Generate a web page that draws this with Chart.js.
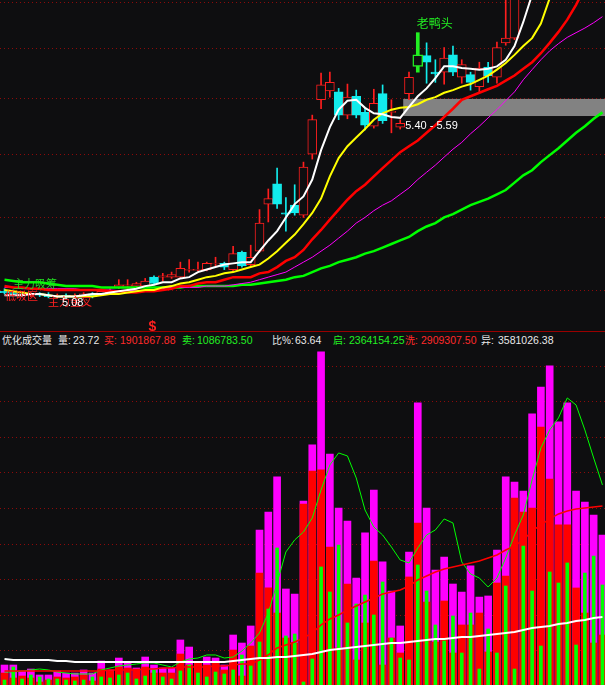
<!DOCTYPE html>
<html>
<head>
<meta charset="utf-8">
<script src="https://cdn.jsdelivr.net/npm/chart.js@4.4.1/dist/chart.umd.min.js"></script>
<style>
  html, body { margin: 0; padding: 0; background: #0e0e10; width: 605px; height: 685px; overflow: hidden; }
  #wrap { position: relative; width: 605px; height: 685px; }
  #price { position: absolute; left: 0; top: 0; }
  #vol { position: absolute; left: 0; top: 349px; }
  #sep { position: absolute; left: 0; top: 331px; width: 605px; height: 1px; background: #9a0000; }
  #hdr { position: absolute; left: 0; top: 333px; width: 605px; height: 15px; overflow: hidden; white-space: nowrap;
         font: 10.5px "Liberation Sans", "Noto Sans CJK SC", sans-serif; }
  #hdr span { position: absolute; top: 0; line-height: 15px; }
  #hdr span.c { font-size: 10px; }
  .w { color: #e8e8e8; } .r { color: #ff2a2a; } .g { color: #22ee22; }
</style>
</head>
<body>
<div id="wrap">
  <canvas id="price" width="605" height="331"></canvas>
  <div id="sep"></div>
  <div id="hdr">
    <span class="w c" style="left:2px">优化成交量</span>
    <span class="w c" style="left:58px">量:</span>
    <span class="w" id="volNow" style="left:73px"></span>
    <span class="r c" style="left:104px">买:</span>
    <span class="r" style="left:120px">1901867.88</span>
    <span class="g c" style="left:182px">卖:</span>
    <span class="g" style="left:197px">1086783.50</span>
    <span class="w c" style="left:272px">比%:</span>
    <span class="w" style="left:295px">63.64</span>
    <span class="g c" style="left:333px">启:</span>
    <span class="g" style="left:349px">2364154.25</span>
    <span class="r c" style="left:405px">洗:</span>
    <span class="r" style="left:421px">2909307.50</span>
    <span class="w c" style="left:481px">异:</span>
    <span class="w" style="left:498px">3581026.38</span>
  </div>
  <canvas id="vol" width="605" height="337"></canvas>
</div>
<script>
// ---- daily candles ----
const candleOpen = [3.79,3.78,3.77,3.76,3.77,3.76,3.75,3.76,3.75,3.76,
  3.77,3.77,3.78,3.82,3.83,3.83,3.83,3.90,3.90,3.90,
  3.90,3.955,3.955,3.96,4.005,4.01,3.96,4.10,4.00,4.11,
  4.52,4.71,4.44,4.51,4.42,5.00,5.58,5.68,5.67,5.41,
  5.62,5.44,5.29,5.65,5.44,5.28,5.65,5.97,6.10,5.90,
  5.90,6.11,5.84,5.87,5.73,5.96,5.84,6.26,6.32,7.15,
  7.70,8.30,8.05,8.60,8.45,8.95,9.30,9.10,9.60];
const candleHigh = [3.81,3.80,3.79,3.78,3.78,3.78,3.77,3.77,3.77,3.78,
  3.78,3.80,3.81,3.88,3.88,3.86,3.89,3.91,3.93,3.94,
  4.02,4.04,4.02,4.02,4.06,4.02,4.15,4.11,4.16,4.47,
  4.66,4.86,4.58,4.70,4.92,5.41,5.89,5.90,5.71,5.76,
  5.69,5.49,5.70,5.75,5.58,5.36,5.90,6.39,6.26,6.05,
  6.20,6.22,6.05,5.90,6.02,6.02,6.27,6.90,7.25,7.75,
  8.35,8.60,8.80,8.90,9.10,9.50,9.60,9.80,9.95];
const candleLow = [3.77,3.76,3.75,3.75,3.75,3.74,3.74,3.74,3.74,3.75,
  3.74,3.76,3.77,3.81,3.80,3.81,3.82,3.84,3.87,3.89,
  3.89,3.94,3.95,3.95,3.99,3.96,3.95,3.98,3.98,4.10,
  4.36,4.48,4.28,4.42,4.40,4.95,5.48,5.61,5.36,5.37,
  5.38,5.25,5.27,5.32,5.22,5.26,5.58,5.90,5.77,5.78,
  5.76,5.86,5.77,5.69,5.66,5.78,5.77,6.23,6.30,7.05,
  7.60,7.95,7.95,8.30,8.40,8.85,9.00,9.05,9.45];
const candleClose = [3.78,3.77,3.76,3.77,3.76,3.75,3.76,3.75,3.76,3.77,
  3.75,3.79,3.80,3.84,3.84,3.85,3.87,3.85,3.91,3.92,
  3.97,3.96,3.96,4.01,4.01,3.98,4.09,3.99,4.06,4.35,
  4.57,4.52,4.43,4.44,4.87,5.36,5.75,5.78,5.41,5.61,
  5.41,5.30,5.54,5.35,5.45,5.32,5.84,6.11,6.02,5.88,
  6.07,5.90,5.99,5.78,5.95,5.86,6.20,6.32,7.10,7.60,
  8.20,8.10,8.60,8.45,8.90,9.30,9.10,9.60,9.75];

// ---- price moving averages ----
const maWhite = [3.76,3.76,3.76,3.77,3.77,3.76,3.75,3.75,3.75,3.76,
  3.77,3.77,3.78,3.79,3.80,3.81,3.83,3.84,3.86,3.86,
  3.89,3.90,3.94,3.96,3.98,4.00,4.01,4.02,4.02,4.11,
  4.20,4.28,4.40,4.52,4.59,4.75,5.04,5.28,5.47,5.57,
  5.58,5.49,5.43,5.42,5.39,5.38,5.50,5.62,5.71,5.83,
  5.97,5.97,5.95,5.94,5.93,5.94,5.97,6.05,6.22,6.53,
  6.90,7.25,7.62,7.95,8.25,8.55,8.80,9.05,9.30];
const maYellow = [3.80,3.79,3.78,3.77,3.77,3.76,3.75,3.75,3.75,3.75,
  3.75,3.76,3.77,3.77,3.78,3.79,3.80,3.80,3.82,3.83,
  3.85,3.86,3.88,3.90,3.91,3.93,3.94,3.96,3.98,4.00,
  4.05,4.11,4.18,4.25,4.34,4.44,4.57,4.78,4.96,5.08,
  5.17,5.26,5.36,5.43,5.47,5.49,5.50,5.53,5.58,5.61,
  5.66,5.69,5.73,5.76,5.81,5.86,5.93,6.01,6.11,6.22,
  6.32,6.51,6.85,7.10,7.35,7.60,7.85,8.10,8.35];
const maRed = [3.83,3.82,3.82,3.81,3.81,3.80,3.80,3.80,3.80,3.80,
  3.80,3.80,3.79,3.79,3.78,3.78,3.79,3.79,3.80,3.81,
  3.83,3.83,3.85,3.86,3.86,3.88,3.90,3.90,3.90,3.93,
  3.94,3.98,4.03,4.06,4.12,4.21,4.29,4.38,4.47,4.56,
  4.64,4.70,4.78,4.86,4.94,5.02,5.08,5.14,5.22,5.30,
  5.39,5.48,5.58,5.62,5.66,5.70,5.74,5.80,5.86,5.94,
  6.02,6.13,6.26,6.40,6.56,6.76,7.00,7.20,7.40];
const maMagenta = [3.82,3.82,3.81,3.81,3.81,3.81,3.81,3.81,3.81,3.80,
  3.80,3.80,3.80,3.795,3.795,3.795,3.795,3.80,3.81,3.82,
  3.82,3.82,3.82,3.83,3.83,3.83,3.84,3.85,3.86,3.88,
  3.90,3.92,3.94,3.98,4.02,4.06,4.11,4.16,4.22,4.28,
  4.35,4.40,4.46,4.51,4.55,4.61,4.67,4.75,4.82,4.89,
  4.97,5.05,5.12,5.21,5.29,5.38,5.47,5.57,5.67,5.81,
  5.93,6.05,6.16,6.25,6.33,6.39,6.45,6.52,6.60];
const maGreen = [3.88,3.87,3.86,3.86,3.86,3.85,3.84,3.83,3.83,3.83,
  3.83,3.82,3.82,3.82,3.82,3.82,3.82,3.82,3.82,3.82,
  3.82,3.83,3.83,3.83,3.83,3.83,3.83,3.84,3.84,3.85,
  3.86,3.87,3.88,3.90,3.91,3.94,3.97,3.99,4.02,4.04,
  4.06,4.09,4.11,4.14,4.17,4.20,4.23,4.28,4.32,4.35,
  4.40,4.43,4.47,4.51,4.54,4.57,4.61,4.65,4.72,4.79,
  4.84,4.92,4.99,5.06,5.14,5.22,5.29,5.37,5.44];

// ---- optimised volume ----
const volTotal = [3.30,3.30,2.36,2.67,1.73,1.73,2.36,2.04,2.04,2.52,
  2.04,3.93,2.52,4.40,3.78,2.83,4.56,3.30,2.83,2.83,
  7.24,6.13,3.78,4.56,4.40,3.30,8.02,6.76,9.44,24.54,
  27.37,32.88,15.26,14.47,29.10,37.91,52.54,36.49,28.00,25.95,
  16.99,24.07,30.83,19.51,14.94,9.44,21.08,44.52,28.00,18.25,
  20.29,16.04,14.79,18.88,14.00,14.16,21.39,32.88,32.09,30.67,
  42.79,47.03,50.34,41.53,44.52,30.67,28.94,26.90,23.72];
const volBuy = [2.04,1.26,1.57,1.26,0.63,0.94,1.42,1.26,1.42,1.73,
  0.79,2.67,2.36,2.99,2.83,2.67,2.99,2.04,2.04,2.04,
  5.03,3.30,3.62,3.30,3.62,2.52,5.66,1.57,6.29,17.77,
  15.42,11.48,7.55,6.76,28.63,33.82,33.98,21.86,5.98,16.04,
  4.09,9.91,19.66,3.30,7.55,5.19,17.15,25.64,13.21,6.92,
  13.37,5.19,9.60,9.60,11.48,5.35,16.20,17.30,29.57,27.37,
  28.00,40.74,32.56,25.33,25.33,15.42,11.48,6.76,8.02];
const volSell = [0.94,2.99,1.10,1.73,1.42,1.10,1.10,0.94,0.79,0.94,
  1.42,1.42,1.26,1.73,2.04,1.10,1.57,2.52,1.42,1.10,
  2.36,3.30,2.04,1.42,2.20,1.89,2.52,4.88,3.15,6.92,
  12.11,21.71,7.87,8.18,0.63,4.25,18.72,14.79,22.18,9.91,
  12.90,14.31,11.17,16.36,7.55,4.40,4.09,19.03,14.94,9.60,
  7.08,11.01,5.19,11.48,2.67,8.97,5.19,15.73,2.67,22.02,
  14.94,6.29,17.93,16.20,19.35,6.45,17.77,20.45,15.89];
const volMaWhite = [4.25,4.09,4.09,4.09,4.09,4.09,3.93,3.93,3.78,3.78,
  3.78,3.78,3.78,3.78,3.78,3.78,3.78,3.78,3.78,3.78,
  3.78,3.78,3.78,3.78,3.78,3.78,3.93,4.09,4.25,4.40,
  4.40,4.56,4.56,4.72,4.88,5.03,5.35,5.66,5.82,5.98,
  6.13,6.29,6.45,6.61,6.76,6.76,6.92,7.08,7.24,7.39,
  7.39,7.55,7.71,7.71,7.87,8.02,8.18,8.34,8.49,8.81,
  9.12,9.28,9.44,9.75,9.91,10.22,10.38,10.70,10.85];
const volMaRed = [2.36,2.36,2.36,2.36,2.36,2.36,2.36,2.36,2.36,2.36,
  2.36,2.36,2.52,2.52,2.52,2.52,2.67,2.67,2.83,2.83,
  2.99,2.99,2.99,2.99,3.15,3.15,3.30,3.46,3.46,4.09,
  4.88,5.98,6.45,6.92,7.55,8.34,9.60,10.54,11.17,11.95,
  12.58,13.21,13.84,14.47,14.79,15.10,15.73,16.67,17.30,17.93,
  18.40,18.72,19.03,19.35,19.66,20.13,20.61,21.39,22.02,22.97,
  24.38,25.33,26.27,27.06,27.53,27.84,28.00,28.16,28.31];
const volMaGreen = [2.20,2.20,2.36,2.52,2.67,2.52,2.20,2.04,1.89,1.89,
  1.89,2.52,2.83,3.15,3.30,3.46,3.62,3.62,3.30,2.99,
  3.78,4.25,4.40,4.88,4.88,4.40,4.56,5.51,6.76,8.34,
  11.48,16.20,21.08,22.97,24.22,26.43,30.83,34.76,36.65,36.18,
  32.72,27.68,25.01,23.75,21.86,19.82,19.35,21.71,23.75,24.54,
  26.27,25.64,19.51,17.62,16.99,15.57,16.99,20.13,23.75,26.90,
  32.40,37.44,40.27,42.16,45.30,44.20,40.27,35.86,31.62];

// ---- axis levels and marked items ----
const priceGrid = [3.8, 4.4, 5.0, 5.6, 6.2, 6.8];
const volGrid = [5.6, 11.2, 16.8, 22.4, 28.0, 33.6, 39.2, 44.8, 50.4];
const zoneLow = 5.40, zoneHigh = 5.59, zoneFrom = 45;   // support band after bar 45
const duckIdx = 47;                                      // 老鸭头 signal bar
const signalIdx = 17;                                    // $ marker bar

// ---- view window ----
const N = candleOpen.length;
const X_MIN = -0.512, X_MAX = 68.29;
const PRICE_MIN = 3.498, PRICE_MAX = 6.826;
const VOL_MAX = 53.0;
const BG = '#0e0e10', UP = '#ff1e1e', DOWN = '#12ecec', DUCK = '#22ee22', GRID = '#8c0a0a';

document.getElementById('volNow').textContent = volTotal[N - 1].toFixed(2);

const idx = [...Array(N).keys()];
const pts = arr => arr.map((v, i) => ({ x: i, y: v }));
const isUp = i => candleClose[i] >= candleOpen[i];

// dotted horizontal grid drawn at the value levels of the y scale
function dottedGrid(levels) {
  return {
    id: 'dottedGrid',
    beforeDatasetsDraw(chart) {
      const { ctx, chartArea, scales: { y } } = chart;
      ctx.save();
      ctx.fillStyle = GRID;
      levels.forEach(v => {
        const py = Math.round(y.getPixelForValue(v));
        for (let px = chartArea.left; px < chartArea.right; px += 4) ctx.fillRect(px, py, 1, 1);
      });
      ctx.restore();
    }
  };
}

const zonePlugin = {
  id: 'zone',
  beforeDatasetsDraw(chart) {
    const { ctx, chartArea, scales: { x, y } } = chart;
    const x0 = x.getPixelForValue(zoneFrom) + 3;
    const yTop = y.getPixelForValue(zoneHigh), yBot = y.getPixelForValue(zoneLow);
    ctx.save();
    ctx.fillStyle = '#828282';
    ctx.fillRect(x0, yTop, chartArea.right - x0, yBot - yTop);
    ctx.restore();
  },
  afterDatasetsDraw(chart) {
    const { ctx, scales: { x, y } } = chart;
    ctx.save();
    // band caption
    const x0 = x.getPixelForValue(zoneFrom) + 3;
    ctx.font = '11px "Liberation Sans"';
    ctx.fillStyle = '#ffffff';
    ctx.textBaseline = 'alphabetic';
    ctx.fillText(zoneLow.toFixed(2) + ' - ' + zoneHigh.toFixed(2), x0 + 2, y.getPixelForValue(zoneLow) + 13);
    // pattern name over the signal candle
    ctx.font = '12px "Noto Sans CJK SC"';
    ctx.fillStyle = DUCK;
    ctx.textBaseline = 'top';
    ctx.fillText('老鸭头', x.getPixelForValue(duckIdx) - 1, y.getPixelForValue(candleHigh[duckIdx]) - 15);
    // $ marker under the early bar
    ctx.font = 'bold 14px "Liberation Sans"';
    ctx.fillStyle = '#ff2020';
    ctx.textAlign = 'center';
    ctx.textBaseline = 'alphabetic';
    ctx.fillText('$', x.getPixelForValue(signalIdx) - 1.5, 331);
    // overlapping indicator captions at the left end
    ctx.textAlign = 'left';
    ctx.textBaseline = 'top';
    ctx.font = '11px "Noto Sans CJK SC"';
    ctx.fillStyle = '#22dd22';
    ctx.fillText('主力吸筹', 13, 278);
    ctx.fillStyle = '#ff2020';
    ctx.fillText('低吸区', 5, 290);
    ctx.fillText('主力金叉', 48, 296);
    ctx.font = '11px "Liberation Sans"';
    ctx.fillStyle = '#ffffff';
    ctx.fillText('5.08', 62, 297);
    ctx.restore();
  }
};

const baseOpts = (yScale) => ({
  responsive: false,
  animation: false,
  devicePixelRatio: 1,
  events: [],
  layout: { padding: 0 },
  plugins: { legend: { display: false }, tooltip: { enabled: false } },
  scales: {
    x: { type: 'linear', min: X_MIN, max: X_MAX, offset: false, bounds: 'ticks', display: false },
    y: yScale
  }
});

const lineDs = (data, color, width, order) => ({
  type: 'line', data: pts(data), borderColor: color, borderWidth: width,
  pointRadius: 0, tension: 0, fill: false, order
});

// ---- price panel ----
const normal = idx.filter(i => i !== duckIdx);
new Chart(document.getElementById('price'), {
  type: 'bar',
  data: {
    datasets: [
      lineDs(maWhite, '#ffffff', 2, 1),
      lineDs(maYellow, '#ffff00', 2, 2),
      lineDs(maRed, '#ff0000', 2.5, 3),
      lineDs(maMagenta, '#ff00ff', 1, 4),
      lineDs(maGreen, '#00ff00', 2.5, 5),
      { // signal candle body
        data: [{ x: duckIdx, y: [candleOpen[duckIdx], candleClose[duckIdx]] }],
        backgroundColor: BG, borderColor: DUCK, borderWidth: 1.5, borderSkipped: false,
        barThickness: 10, grouped: false, minBarLength: 1, order: 10
      },
      { // signal candle wick
        data: [{ x: duckIdx, y: [candleLow[duckIdx], candleHigh[duckIdx]] }],
        backgroundColor: DUCK, borderWidth: 0, barThickness: 3, grouped: false, order: 11
      },
      { // bodies
        data: normal.map(i => ({ x: i, y: [candleOpen[i], candleClose[i]] })),
        backgroundColor: c => isUp(c.raw.x) ? BG : DOWN,
        borderColor: c => isUp(c.raw.x) ? UP : DOWN,
        borderWidth: 1, borderSkipped: false, barThickness: 9, grouped: false, minBarLength: 1, order: 20
      },
      { // wicks
        data: normal.map(i => ({ x: i, y: [candleLow[i], candleHigh[i]] })),
        backgroundColor: c => isUp(c.raw.x) ? UP : DOWN,
        borderWidth: 0, barThickness: 1, grouped: false, order: 30
      }
    ]
  },
  options: baseOpts({ type: 'logarithmic', min: PRICE_MIN, max: PRICE_MAX, display: false }),
  plugins: [dottedGrid(priceGrid), zonePlugin]
});

// ---- volume panel ----
new Chart(document.getElementById('vol'), {
  type: 'bar',
  data: {
    datasets: [
      lineDs(volMaWhite, '#ffffff', 2, 1),
      lineDs(volMaRed, '#ff0000', 1.5, 2),
      lineDs(volMaGreen, '#00ff00', 1, 3),
      { data: pts(volSell), backgroundColor: '#00ff00', borderWidth: 0, barThickness: 3, grouped: false, order: 10 },
      { data: pts(volBuy), backgroundColor: '#ff0000', borderWidth: 0, barThickness: 7, grouped: false, order: 11 },
      { data: pts(volTotal), backgroundColor: '#ff00ff', borderWidth: 0, barThickness: 7, grouped: false, order: 12 }
    ]
  },
  options: baseOpts({ type: 'linear', min: 0, max: VOL_MAX, display: false }),
  plugins: [dottedGrid(volGrid)]
});
</script>
</body>
</html>
